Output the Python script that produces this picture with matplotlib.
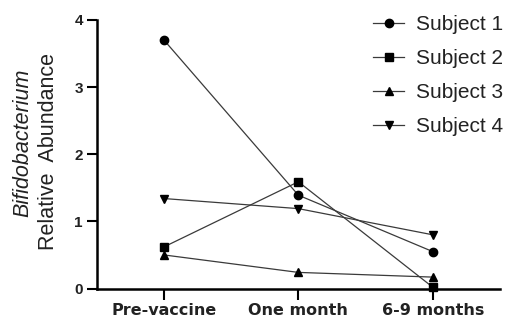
import matplotlib
matplotlib.use('Agg')
import matplotlib.pyplot as plt

plt.rcParams['font.family'] = ['Liberation Sans', 'DejaVu Sans']

timepoints = ['Pre-vaccine', 'One month', '6-9 months']
subjects = ['Subject 1', 'Subject 2', 'Subject 3', 'Subject 4']
subject1 = [3.70, 1.39, 0.55]
subject2 = [0.62, 1.59, 0.02]
subject3 = [0.50, 0.24, 0.17]
subject4 = [1.34, 1.19, 0.80]
yticks = [0, 1, 2, 3, 4]
markers = ['o', 's', '^', 'v']

fig = plt.figure(figsize=(5.07, 3.22), dpi=100)
ax = fig.add_axes([0.191, 0.104, 0.795, 0.834])

x = list(range(len(timepoints)))
for name, vals, m in zip(subjects, [subject1, subject2, subject3, subject4], markers):
    ax.plot(x, vals, marker=m, color='#3a3a3a', mfc='black', mec='black',
            lw=0.9, ms=6, label=name, clip_on=False, zorder=3)

ax.set_xlim(-0.5, 2.5)
ax.set_ylim(0, 4)
ax.set_yticks(yticks, labels=[str(v) for v in yticks],
              fontsize=11, fontweight='bold', color='#222222')
ax.set_xticks(x, labels=timepoints, fontsize=11.5, fontweight='bold',
              family='DejaVu Sans', color='#222222')
ax.spines['top'].set_visible(False)
ax.spines['right'].set_visible(False)
ax.spines['left'].set_linewidth(1.8)
ax.spines['bottom'].set_linewidth(1.8)
ax.tick_params(axis='y', length=7, width=1.5, pad=3)
ax.tick_params(axis='x', length=8, width=1.5, pad=2.5)

fig.text(0.046, 0.555, 'Bifidobacterium', rotation=90, ha='center', va='center',
         fontsize=15.5, style='italic', color='#222222')
fig.text(0.096, 0.53, 'Relative  Abundance', rotation=90, ha='center', va='center',
         fontsize=15.5, color='#222222')

leg = ax.legend(loc='upper left', bbox_to_anchor=(0.665, 1.05), frameon=False,
                fontsize=15, handlelength=1.5, handletextpad=0.55,
                labelspacing=0.72, borderaxespad=0)
for t in leg.get_texts():
    t.set_color('#222222')

fig.savefig('out.png', dpi=100)
